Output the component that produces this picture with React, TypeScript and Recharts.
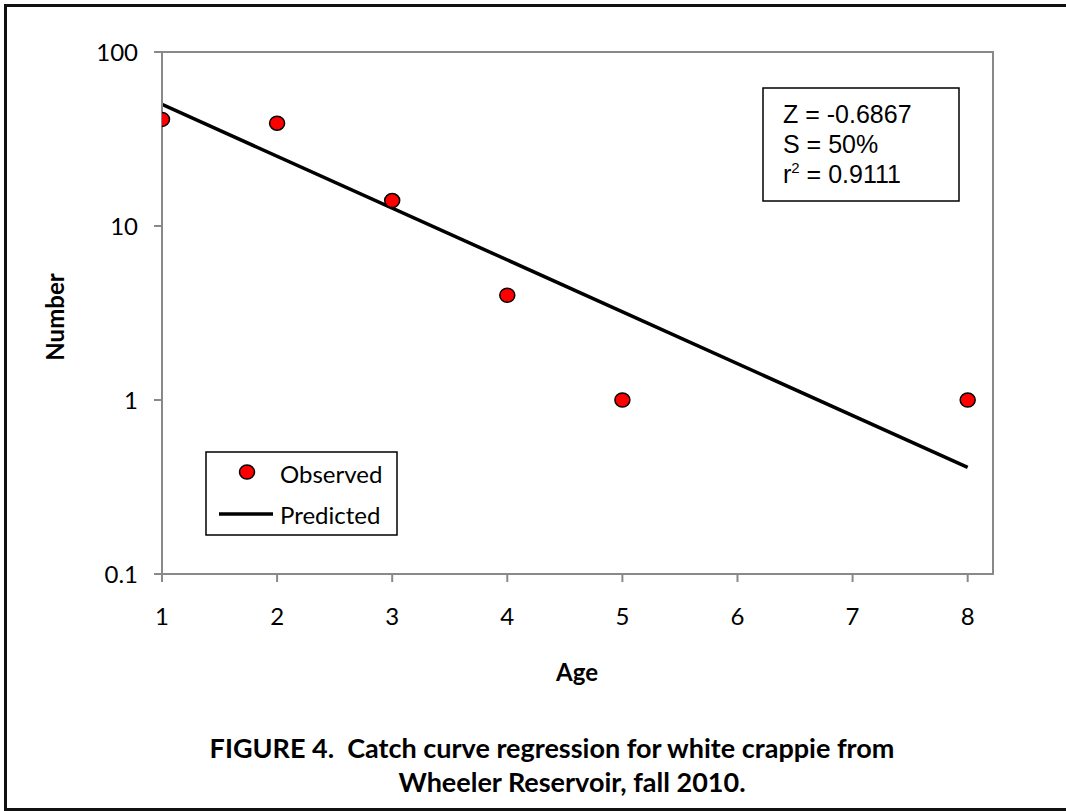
import React from "react";
import { ComposedChart, Scatter, Line, XAxis, YAxis } from "recharts";

const ageTicks = [1, 2, 3, 4, 5, 6, 7, 8];
const numberTicks = [0.1, 1, 10, 100];
const observedAges = [1, 2, 3, 4, 5, 8];
const observedNumbers = [41, 39, 14, 4, 1, 1];
const predictedAges = [1, 8];
const predictedNumbers = [50, 0.41];
const legendLabels = ["Observed", "Predicted"];
const statsLines = ["Z = -0.6867", "S = 50%", " = 0.9111"];
const captionLines = [
  "FIGURE 4.\u00a0\u00a0Catch curve regression for white crappie from",
  "Wheeler Reservoir, fall 2010.",
];

const observedData = observedAges.map((a, i) => ({ age: a, num: observedNumbers[i] }));
const predictedData = predictedAges.map((a, i) => ({ age: a, num: predictedNumbers[i] }));

const CAL = "Lato, 'Open Sans', sans-serif";
const ARIAL = "'Liberation Sans', Arial, sans-serif";
const AXIS_GREY = "#898989";

const Dot = (props: any) => {
  const { cx, cy } = props;
  if (cx == null || cy == null) return null;
  return <ellipse cx={cx} cy={cy} rx={7.5} ry={7} fill="#ff0000" stroke="#000" strokeWidth={1.5} />;
};

export default function App() {
  return (
    <div style={{ position: "absolute", left: 0, top: 0, width: 1066, height: 811, background: "#fff" }}>
      <ComposedChart
        width={1066}
        height={811}
        margin={{ top: 52, right: 73, left: 102, bottom: 197 }}
      >
        <XAxis
          dataKey="age"
          type="number"
          domain={[1, 8.22]}
          ticks={ageTicks}
          allowDataOverflow
          height={40}
          stroke={AXIS_GREY}
          strokeWidth={2}
          tickSize={8}
          tickMargin={26}
          tick={{ fill: "#000", fontSize: 24, fontFamily: CAL }}
          tickLine={{ stroke: AXIS_GREY, strokeWidth: 2 }}
        />
        <YAxis
          dataKey="num"
          type="number"
          scale="log"
          domain={[0.1, 100]}
          ticks={numberTicks}
          allowDataOverflow
          width={60}
          stroke={AXIS_GREY}
          strokeWidth={2}
          tickSize={8}
          tickMargin={16}
          tickFormatter={(v: number) => String(v)}
          tick={{ fill: "#000", fontSize: 24, fontFamily: CAL }}
          tickLine={{ stroke: AXIS_GREY, strokeWidth: 2 }}
        />
        <Line
          data={predictedData}
          dataKey="num"
          stroke="#000"
          strokeWidth={3.5}
          dot={false}
          activeDot={false}
          isAnimationActive={false}
          legendType="line"
          name={legendLabels[1]}
        />
        <Scatter
          data={observedData}
          dataKey="num"
          shape={<Dot />}
          isAnimationActive={false}
          name={legendLabels[0]}
        />
      </ComposedChart>
      <svg width={1066} height={811} style={{ position: "absolute", left: 0, top: 0, pointerEvents: "none" }}>
        {/* plot area top and right border */}
        <line x1={154} y1={52} x2={994} y2={52} stroke={AXIS_GREY} strokeWidth={2} />
        <line x1={993} y1={51} x2={993} y2={575} stroke={AXIS_GREY} strokeWidth={2} />
        {/* outer frame */}
        <line x1={4} y1={5.5} x2={1066} y2={5.5} stroke="#111" strokeWidth={3} />
        <line x1={5.5} y1={4} x2={5.5} y2={811} stroke="#111" strokeWidth={3} />
        <line x1={4} y1={809.5} x2={1066} y2={809.5} stroke="#111" strokeWidth={3} />
        {/* axis titles */}
        <text
          x={0}
          y={0}
          transform="translate(64,317) rotate(-90)"
          textAnchor="middle"
          fontFamily={CAL}
          fontWeight="bold"
          fontSize={24}
          fill="#000"
        >
          Number
        </text>
        <text x={577} y={681} textAnchor="middle" fontFamily={CAL} fontWeight="bold" fontSize={24} fill="#000">
          Age
        </text>
        {/* caption */}
        <text x={552} y={758} textAnchor="middle" fontFamily={CAL} fontWeight="bold" fontSize={27} fill="#000">
          {captionLines[0]}
        </text>
        <text x={572} y={792} textAnchor="middle" fontFamily={CAL} fontWeight="bold" fontSize={27} fill="#000">
          {captionLines[1]}
        </text>
        {/* legend */}
        <rect x={206} y={452} width={191} height={83} fill="#fff" stroke="#000" strokeWidth={1.5} />
        <ellipse cx={247} cy={472} rx={7.5} ry={7} fill="#ff0000" stroke="#000" strokeWidth={1.5} />
        <line x1={219} y1={514} x2={273} y2={514} stroke="#000" strokeWidth={3.5} />
        <text x={280} y={483} fontFamily={CAL} fontSize={24} fill="#000">
          {legendLabels[0]}
        </text>
        <text x={280} y={524} fontFamily={CAL} fontSize={24} fill="#000">
          {legendLabels[1]}
        </text>
        {/* stats box */}
        <rect x={763} y={88} width={196} height={113} fill="#fff" stroke="#000" strokeWidth={1.5} />
        <text x={783} y={123} fontFamily={ARIAL} fontSize={25} fill="#000">
          {statsLines[0]}
        </text>
        <text x={783} y={153} fontFamily={ARIAL} fontSize={25} fill="#000">
          {statsLines[1]}
        </text>
        <text x={783} y={183} fontFamily={ARIAL} fontSize={25} fill="#000">
          r
          <tspan fontSize={15} dy={-10}>2</tspan>
          <tspan dy={10}>{statsLines[2]}</tspan>
        </text>
      </svg>
    </div>
  );
}
